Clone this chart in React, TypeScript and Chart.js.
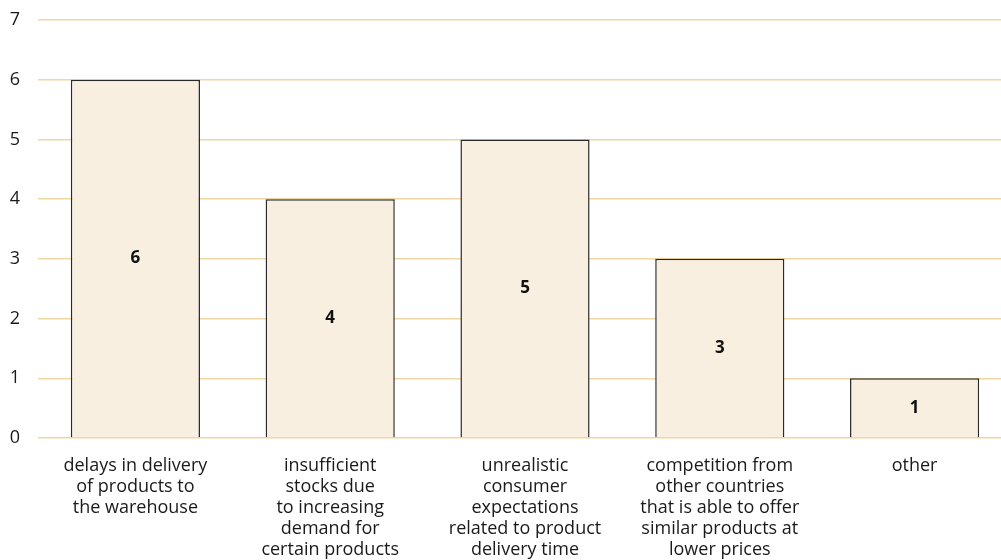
import React, { useEffect, useRef } from "react";
import { Chart, registerables } from "chart.js";

Chart.register(...registerables);

const categories: string[][] = [
  ["delays in delivery", "of products to", "the warehouse"],
  ["insufficient", "stocks due", "to increasing", "demand for", "certain products"],
  ["unrealistic", "consumer", "expectations", "related to product", "delivery time"],
  ["competition from", "other countries", "that is able to offer", "similar products at", "lower prices"],
  ["other"],
];
const values: number[] = [6, 4, 5, 3, 1];
const yTicks: number[] = [0, 1, 2, 3, 4, 5, 6, 7];

const FONT = "'Open Sans', Lato, sans-serif";

const barLabels = {
  id: "barLabels",
  afterDatasetsDraw(chart: any) {
    const ctx = chart.ctx;
    const meta = chart.getDatasetMeta(0);
    ctx.save();
    ctx.font = `bold 17px ${FONT}`;
    ctx.fillStyle = "#111";
    ctx.textAlign = "center";
    ctx.textBaseline = "middle";
    meta.data.forEach((el: any, i: number) => {
      const y = (el.y + el.base) / 2;
      ctx.fillText(String(values[i]), el.x, y);
    });
    ctx.restore();
  },
};

export default function App() {
  const ref = useRef<HTMLCanvasElement | null>(null);
  useEffect(() => {
    document.body.style.overflow = "hidden";
    const chart = new Chart(ref.current as HTMLCanvasElement, {
      type: "bar",
      data: {
        labels: categories,
        datasets: [
          {
            data: values,
            backgroundColor: "#f8efe1",
            borderColor: "#2a2a2a",
            borderWidth: 1.5,
            categoryPercentage: 1,
            barPercentage: 0.663,
          },
        ],
      },
      options: {
        animation: false,
        responsive: false,
        maintainAspectRatio: false,
        layout: { padding: { top: 20, left: 0, right: 0, bottom: 0 } },
        plugins: { legend: { display: false }, tooltip: { enabled: false } },
        scales: {
          x: {
            grid: { display: false, drawTicks: false },
            border: { display: false },
            ticks: {
              font: { family: FONT, size: 18, lineHeight: 1.17 },
              color: "#1a1a1a",
              padding: 17,
              maxRotation: 0,
              autoSkip: false,
            },
            afterFit(axis: any) {
              axis.height = 122;
              axis.paddingLeft = 0;
              axis.paddingRight = 0;
            },
          },
          y: {
            min: 0,
            max: 7,
            afterBuildTicks(axis: any) {
              axis.ticks = yTicks.map((v) => ({ value: v }));
            },
            grid: { color: "#f0d6a2", lineWidth: 1.5, drawTicks: false },
            border: { display: false },
            ticks: {
              font: { family: FONT, size: 18 },
              color: "#1a1a1a",
              padding: 18,
            },
            afterFit(axis: any) {
              axis.width = 38;
              axis.paddingTop = 0;
              axis.paddingBottom = 0;
            },
          },
        },
      },
      plugins: [barLabels],
    });
    return () => chart.destroy();
  }, []);
  return (
    <div style={{ position: "absolute", left: 0, top: 0, width: 1012, height: 560 }}>
      <canvas ref={ref} width={1012} height={560} style={{ display: "block" }} />
    </div>
  );
}
